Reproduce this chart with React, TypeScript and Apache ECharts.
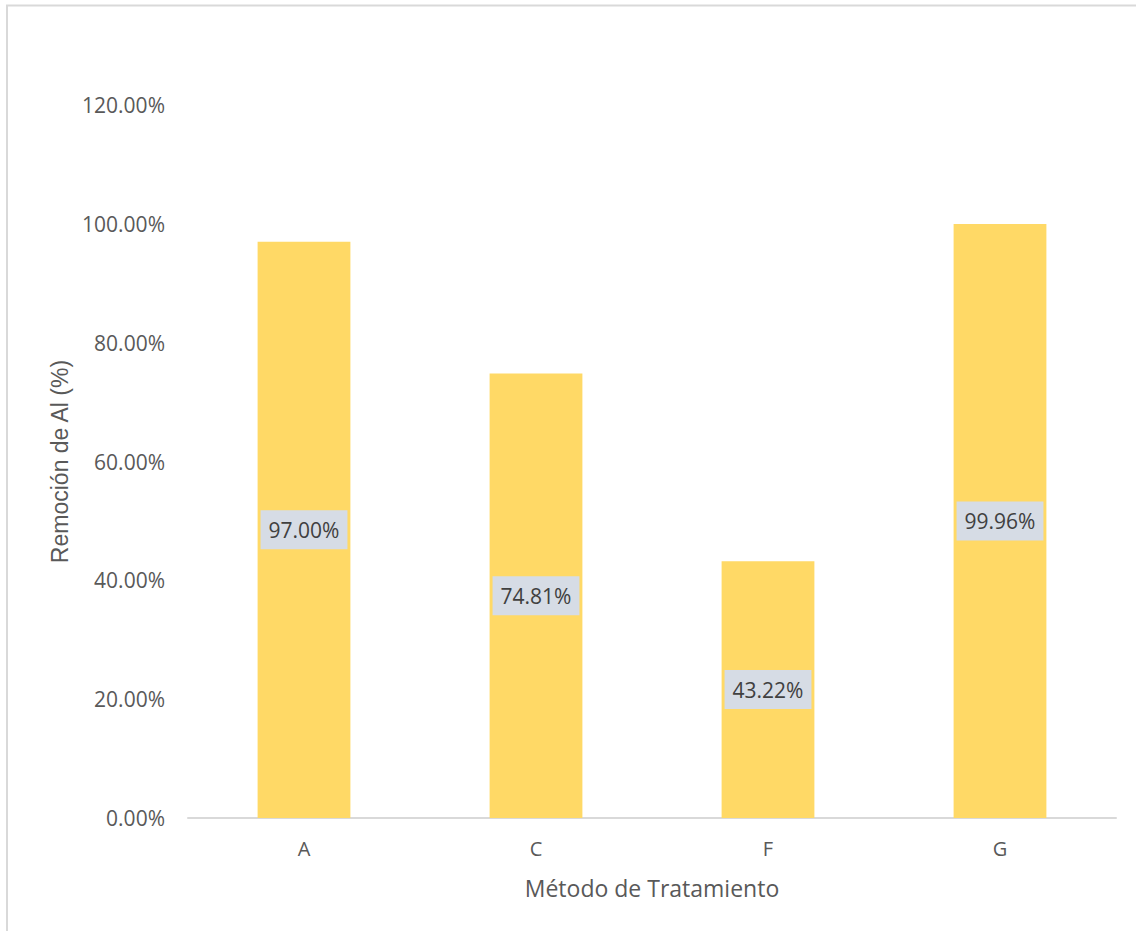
import React, { useEffect, useRef } from "react";
import * as echarts from "echarts";

const categories = ["A", "C", "F", "G"];
const removal = [0.97, 0.7481, 0.4322, 0.9996];
const yTicks = { min: 0, max: 1.2, interval: 0.2 };

const pct = (v: number) => (v * 100).toFixed(2) + "%";

export default function App() {
  const ref = useRef<HTMLDivElement>(null);

  useEffect(() => {
    if (!ref.current) return;
    const chart = echarts.init(ref.current, undefined, { renderer: "svg" });
    chart.setOption({
      animation: false,
      backgroundColor: "#ffffff",
      textStyle: { fontFamily: "Open Sans" },
      graphic: [
        {
          type: "rect",
          shape: { x: 7, y: 5.5, width: 1140, height: 940 },
          style: { fill: "none", stroke: "#D9D9D9", lineWidth: 2 },
          silent: true,
        },
      ],
      grid: { left: 188, right: 20, top: 105, bottom: 113 },
      xAxis: {
        type: "category",
        data: categories,
        name: "Método de Tratamiento",
        nameLocation: "middle",
        nameGap: 58,
        nameTextStyle: { fontSize: 23, color: "#595959", fontFamily: "Open Sans" },
        axisLine: { lineStyle: { color: "#D9D9D9", width: 2 } },
        axisTick: { show: false },
        axisLabel: { fontSize: 20, color: "#595959", margin: 20 },
      },
      yAxis: {
        type: "value",
        min: yTicks.min,
        max: yTicks.max,
        interval: yTicks.interval,
        name: "Remoción de Al (%)",
        nameLocation: "middle",
        nameRotate: 90,
        nameGap: 116,
        nameTextStyle: { fontSize: 23, color: "#595959", fontFamily: "Liberation Sans" },
        axisLine: { show: false },
        axisTick: { show: false },
        splitLine: { show: false },
        axisLabel: {
          fontSize: 21,
          color: "#595959",
          margin: 23,
          formatter: (v: number) => pct(v),
        },
      },
      series: [
        {
          type: "bar",
          data: removal,
          barWidth: "40%",
          itemStyle: { color: "#FFD966" },
          label: {
            show: true,
            position: "inside",
            formatter: (p: any) => pct(p.value),
            backgroundColor: "#D6DCE5",
            color: "#404040",
            fontSize: 21,
            fontFamily: "Open Sans",
            padding: [10, 8, 8, 8],
          },
        },
      ],
    });
    return () => chart.dispose();
  }, []);

  return (
    <div
      ref={ref}
      style={{ position: "absolute", left: 0, top: 0, width: 1136, height: 931 }}
    />
  );
}
